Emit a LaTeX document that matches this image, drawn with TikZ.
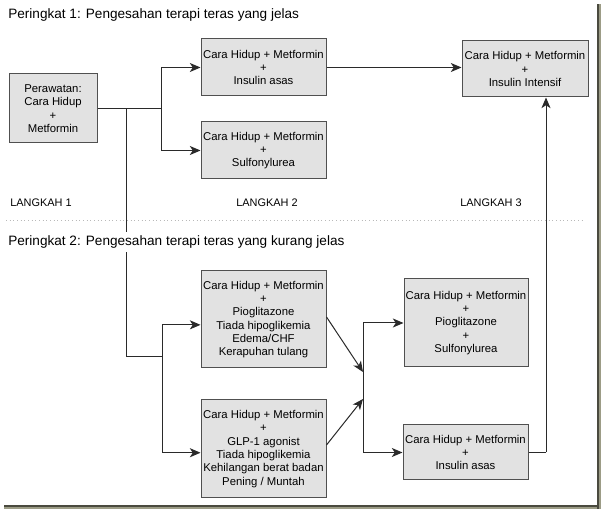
\documentclass[tikz,border=0pt]{standalone}
\usepackage{fontspec}
\setmainfont{Liberation Sans}
\usetikzlibrary{arrows.meta,positioning,calc}
\definecolor{boxgray}{HTML}{E2E2E2}
\definecolor{edgegray}{HTML}{505050}
\definecolor{inkline}{HTML}{2A2A2A}
\definecolor{shadowdark}{HTML}{4A4A3E}
\definecolor{shadowlight}{HTML}{9C9C86}

\begin{document}
\begin{tikzpicture}[
    x=0.75pt, y=-0.75pt,
    >={Stealth[length=8pt,width=6.8pt,inset=2.2pt]},
    title/.style={font=\fontsize{10.2}{12}\selectfont, anchor=west},
    stage/.style={font=\fontsize{8.2}{10}\selectfont},
    drug/.style={draw=edgegray, fill=boxgray, line width=0.75pt, inner sep=0pt,
        align=center, font=\fontsize{8.5}{10}\selectfont},
    line/.style={draw=inkline, line width=0.75pt},
    arrow/.style={line, ->},
]
    \fill[white] (0,0) rectangle (601,509);
    \useasboundingbox (0,0) rectangle (601,509);

    % frame shadow
    \fill[shadowdark] (4,505) rectangle (601,507);
    \fill[shadowlight] (4,507) rectangle (601,509);
    \fill[shadowdark] (597,4) rectangle (599,509);
    \fill[shadowlight] (599,4) rectangle (601,509);

    % =====================================================================
    % PERINGKAT 1
    % =====================================================================
    \node[title, inner sep=0pt] (t1) at (8,15) {Peringkat 1: Pengesahan terapi teras yang jelas};

    \node[drug, minimum width=66pt, minimum height=51.75pt] (A) at (53,108.5)
        {Perawatan:\\Cara Hidup\\+\\Metformin};
    \node[drug, minimum width=93.75pt, minimum height=42.75pt] (B1) at (263.5,67.5)
        {Cara Hidup + Metformin\\+\\Insulin asas};
    \node[drug, minimum width=93.75pt, minimum height=42.75pt] (B2) at (263.5,150.5)
        {Cara Hidup + Metformin\\+\\Sulfonylurea};
    \node[drug, minimum width=94.5pt, minimum height=42pt] (C) at (525,69)
        {Cara Hidup + Metformin\\+\\Insulin Intensif};

    \node[stage, anchor=west, inner sep=0pt] (s1) at (10,203) {LANGKAH 1};
    \node[stage] (s2) at (267,203) {LANGKAH 2};
    \node[stage] (s3) at (491,203) {LANGKAH 3};

    \draw[gray!55, dotted, line width=0.75pt] (6,221) -- (583,221);

    % =====================================================================
    % PERINGKAT 2
    % =====================================================================
    \node[drug, minimum width=93.75pt, minimum height=72.75pt] (D1) at (263.5,319.5)
        {Cara Hidup + Metformin\\+\\Pioglitazone\\Tiada hipoglikemia\\Edema/CHF\\Kerapuhan tulang};
    \node[drug, minimum width=93.75pt, minimum height=73.5pt] (D2) at (263.5,449)
        {Cara Hidup + Metformin\\+\\GLP-1 agonist\\Tiada hipoglikemia\\Kehilangan berat badan\\Pening / Muntah};
    \node[drug, minimum width=93pt, minimum height=66pt] (E1) at (466,323)
        {Cara Hidup + Metformin\\+\\Pioglitazone\\+\\Sulfonylurea};
    \node[drug, minimum width=93.75pt, minimum height=41.25pt] (E2) at (465.5,452.5)
        {Cara Hidup + Metformin\\+\\Insulin asas};

    % connectors
    \coordinate (j1) at (161,108.5);
    \coordinate (a1) at (126,108.5);
    \coordinate (j2) at (162,357);
    \coordinate (m1) at (363,372);
    \coordinate (m2) at (363,399);
    \coordinate (j3) at (363,388);
    \coordinate (k) at (546,452.5);

    \draw[line] (A.east) -- (j1);
    \draw[arrow] (j1) |- (B1.west);
    \draw[arrow] (j1) |- (B2.west);
    \draw[arrow] (B1.east) -- (B1.east -| C.west);

    \draw[line] (a1) |- (j2);
    \draw[arrow] (j2) |- ([yshift=-4pt]D1.west);
    \draw[arrow] (j2) |- ([yshift=-2.8pt]D2.west);
    \draw[arrow] ([yshift=1.9pt]D1.east) -- (m1);
    \draw[arrow] ([yshift=3pt]D2.east) -- (m2);
    \draw[arrow] (j3) |- (E1.west);
    \draw[arrow] (j3) |- (E2.west);
    \draw[line] (E2.east) -- (k);
    \draw[arrow] (k) -- (k |- C.south);

    \node[title, fill=white, inner sep=3pt] (t2) at (4,242) {Peringkat 2: Pengesahan terapi teras yang kurang jelas};

\end{tikzpicture}
\end{document}
